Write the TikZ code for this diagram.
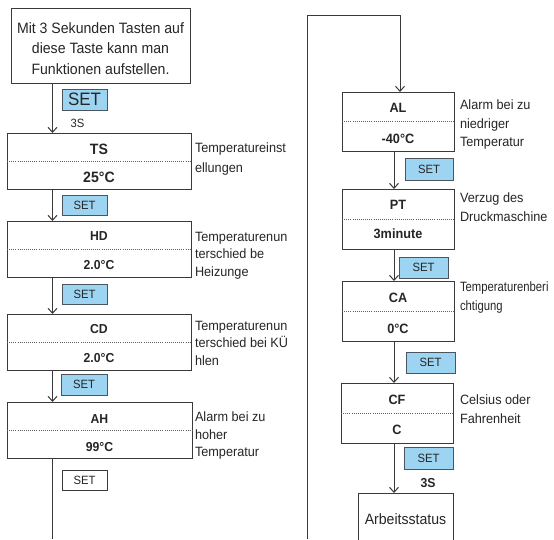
\documentclass[tikz,border=0pt]{standalone}
\usepackage{fontspec}
\setmainfont{Liberation Sans}[FakeStretch=0.94]
\usetikzlibrary{arrows.meta,calc}
\definecolor{ln}{HTML}{3A3A3A}
\definecolor{tx}{HTML}{262626}
\definecolor{setblue}{HTML}{9DD4F2}
\definecolor{setln}{HTML}{4A5560}
\begin{document}
\begin{tikzpicture}[x=1pt,y=-1pt,
  every node/.style={inner sep=0pt, outer sep=0pt, text=tx},
  frame/.style 2 args={draw=ln, line width=1pt, fill=white, anchor=north west,
    minimum width=#1pt, minimum height=#2pt},
  setb/.style 2 args={draw=setln, fill=setblue, line width=0.9pt, anchor=north west,
    minimum width=#1pt, minimum height=#2pt, font=\fontsize{12}{12}\selectfont},
  setw/.style 2 args={draw=ln, fill=white, line width=0.9pt, anchor=north west,
    minimum width=#1pt, minimum height=#2pt, font=\fontsize{12}{12}\selectfont},
  arr/.style={draw=ln, line width=1pt, -{Straight Barb[length=5pt,width=9pt]}},
  plain/.style={draw=ln, line width=1pt},
  dotline/.style={draw=ln!80, line width=0.6pt, dash pattern=on 0.8pt off 1.3pt},
  val/.style={font=\fontsize{13.5}{13.5}\selectfont\bfseries},
  lval/.style={font=\fontsize{13}{13}\selectfont\bfseries},
  bigval/.style={font=\fontsize{15}{15}\selectfont\bfseries},
  lab/.style={anchor=north west, align=left, font=\fontsize{13.5}{18.5}\selectfont},
  llab/.style={anchor=north west, align=left, font=\fontsize{13.5}{17.5}\selectfont}
]
\useasboundingbox (0,0) rectangle (554,539);

% column coordinates
\coordinate (colL) at (52.5,0);
\coordinate (colR) at (394,0);

% ---------------- left column ----------------
\node[frame={179}{75}] (top) at (11,8) {};
\node[font=\fontsize{15}{20.5}\selectfont, align=center] (toptext) at (100.5,48.5)
  {Mit 3 Sekunden Tasten auf\\diese Taste kann man\\Funktionen aufstellen.};

\node[setb={45}{21}, font=\fontsize{18}{18}\selectfont] (s1) at (62,89) {SET};
\node[font=\fontsize{12}{12}\selectfont] (t3s1) at (77.5,123.5) {3S};

\node[frame={184}{56}] (ts) at (7,133) {};
\draw[dotline] (ts.west) -- (ts.east);
\node[bigval] (tsn) at ($(ts.north)!0.29!(ts.south)$) {TS};
\node[bigval] (tsv) at ($(ts.north)!0.80!(ts.south)$) {25°C};
\node[llab, font=\fontsize{13.5}{20}\selectfont] (lts) at (195,143) {Temperatureinst\\ellungen};

\node[setb={45}{20}] (s2) at (62,195) {SET};

\node[frame={184}{56}] (hd) at (7,221) {};
\draw[dotline] (hd.west) -- (hd.east);
\node[lval] (hdn) at ($(hd.north)!0.27!(hd.south)$) {HD};
\node[lval] (hdv) at ($(hd.north)!0.78!(hd.south)$) {2.0°C};
\node[llab] (lhd) at (195,232) {Temperaturenun\\terschied be\\Heizunge};

\node[setb={45}{20}] (s3) at (62,284) {SET};

\node[frame={184}{56}] (cd) at (7,314) {};
\draw[dotline] (cd.west) -- (cd.east);
\node[lval] (cdn) at ($(cd.north)!0.27!(cd.south)$) {CD};
\node[lval] (cdv) at ($(cd.north)!0.78!(cd.south)$) {2.0°C};
\node[llab] (lcd) at (195,321) {Temperaturenun\\terschied bei KÜ\\hlen};

\node[setb={46}{21}] (s4) at (61,374) {SET};

\node[frame={185}{56}] (ah) at (7,402) {};
\draw[dotline] (ah.west) -- (ah.east);
\node[lval] (ahn) at ($(ah.north)!0.30!(ah.south)$) {AH};
\node[lval] (ahv) at ($(ah.north)!0.81!(ah.south)$) {99°C};
\node[llab] (lah) at (195,412) {Alarm bei zu\\hoher\\Temperatur};

\node[setw={45}{20}] (s5) at (62,470) {SET};

\coordinate (lbot) at (52.5,539);

\draw[arr] (top.south -| colL) -- (ts.north -| colL);
\draw[arr] (ts.south -| colL) -- (hd.north -| colL);
\draw[arr] (hd.south -| colL) -- (cd.north -| colL);
\draw[arr] (cd.south -| colL) -- (ah.north -| colL);
\draw[plain] (ah.south -| colL) -- (lbot);

% ---------------- right column ----------------
\coordinate (rbot) at (307,539);
\coordinate (rtop) at (307,15);
\coordinate (rturn) at (400,15);

\node[frame={112}{59}] (al) at (342,92) {};
\draw[dotline] (al.west) -- (al.east);
\node[val] (aln) at ($(al.north)!0.27!(al.south)$) {AL};
\node[val] (alv) at ($(al.north)!0.80!(al.south)$) {-40°C};
\node[lab] (lal) at (460,100) {Alarm bei zu\\niedriger\\Temperatur};

\node[setb={48}{22}] (s6) at (405,158) {SET};

\node[frame={112}{60}] (pt) at (342,189) {};
\draw[dotline] (pt.west) -- (pt.east);
\node[val] (ptn) at ($(pt.north)!0.26!(pt.south)$) {PT};
\node[val] (ptv) at ($(pt.north)!0.74!(pt.south)$) {3minute};
\node[lab] (lpt) at (460,193) {Verzug des\\Druckmaschine};

\node[setb={49}{21}] (s7) at (399,257) {SET};

\node[frame={112}{60}] (ca) at (342,281) {};
\draw[dotline] (ca.west) -- (ca.east);
\node[val] (can) at ($(ca.north)!0.28!(ca.south)$) {CA};
\node[val] (cav) at ($(ca.north)!0.80!(ca.south)$) {0°C};
\node[lab] (lca) at (460,282) {\scalebox{0.89}[1]{Temperaturenberi}\\\scalebox{0.89}[1]{chtigung}};

\node[setb={49}{21}] (s8) at (406,352) {SET};

\node[frame={112}{60}] (cf) at (341,383) {};
\draw[dotline] (cf.west) -- (cf.east);
\node[val] (cfn) at ($(cf.north)!0.28!(cf.south)$) {CF};
\node[val] (cfv) at ($(cf.north)!0.78!(cf.south)$) {C};
\node[lab] (lcf) at (460,395) {Celsius oder\\Fahrenheit};

\node[setb={49}{22}] (s9) at (404,447) {SET};
\node[font=\fontsize{13}{13}\selectfont\bfseries] (t3s2) at (428,483) {3S};

\node[minimum width=95pt, minimum height=60pt, anchor=north west] (arb) at (358,493) {};
\draw[plain] (arb.south west) -- (arb.north west) -- (arb.north east) -- (arb.south east);
\node[font=\fontsize{15}{15}\selectfont] (arbt) at (405.5,519) {Arbeitsstatus};

\draw[arr] (rbot) -- (rtop) -- (rturn) -- (al.north -| rturn);
\draw[arr] (al.south -| colR) -- (pt.north -| colR);
\draw[arr] (pt.south -| colR) -- (ca.north -| colR);
\draw[arr] (ca.south -| colR) -- (cf.north -| colR);
\draw[arr] (cf.south -| colR) -- (arb.north -| colR);
\end{tikzpicture}
\end{document}
